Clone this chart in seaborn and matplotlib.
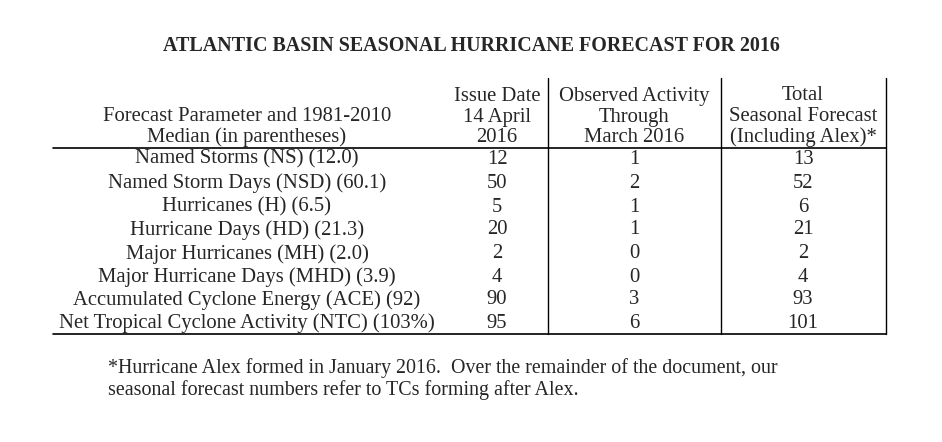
import seaborn as sb
import matplotlib.pyplot as plt

sb.set_style("white")
plt.rcParams['font.family'] = ['Liberation Serif', 'DejaVu Serif']

#### table data
title = "ATLANTIC BASIN SEASONAL HURRICANE FORECAST FOR 2016"
headers = ["Forecast Parameter and 1981-2010\nMedian (in parentheses)",
           "Issue Date\n14 April\n2016",
           "Observed Activity\nThrough\nMarch 2016",
           "Total\nSeasonal Forecast\n(Including Alex)*"]
params = ["Named Storms (NS) (12.0)", "Named Storm Days (NSD) (60.1)",
          "Hurricanes (H) (6.5)", "Hurricane Days (HD) (21.3)",
          "Major Hurricanes (MH) (2.0)", "Major Hurricane Days (MHD) (3.9)",
          "Accumulated Cyclone Energy (ACE) (92)",
          "Net Tropical Cyclone Activity (NTC) (103%)"]
issue = [12, 50, 5, 20, 2, 4, 90, 95]
observed = [1, 2, 1, 1, 0, 0, 3, 6]
total = [13, 52, 6, 21, 2, 4, 93, 101]
footnote = ("*Hurricane Alex formed in January 2016.  Over the remainder of the document, our\n"
            "seasonal forecast numbers refer to TCs forming after Alex.")

fig = plt.figure(figsize=(9.42, 4.42), dpi=100)
ax = fig.add_axes([0, 0, 1, 1])
ax.set_xlim(0, 942)
ax.set_ylim(442, 0)
ax.axis("off")

col_x = [247, 497, 634, 803]
fs = 14.9

ax.text(471, 46, title, ha="center", va="center", fontsize=14.4, fontweight="bold")

# header (bottom aligned)
for i, h in enumerate(headers):
    ax.text(col_x[i], 147, h, ha="center", va="bottom", fontsize=fs, linespacing=1.1)

row_y = [159, 183, 207, 230, 254, 277, 300, 323]
for i in range(len(params)):
    vals = [params[i], issue[i], observed[i], total[i]]
    for j, v in enumerate(vals):
        ax.text(col_x[j], row_y[i], str(v), ha="center", va="center", fontsize=fs)

# rules
ax.plot([53, 886], [148, 148], color="black", lw=1.2)
ax.plot([53, 886], [334, 334], color="black", lw=1.2)
for x in [548, 721, 886]:
    ax.plot([x, x], [78, 334], color="black", lw=1.0)

ax.text(108, 379, footnote, ha="left", va="center", fontsize=14.4, linespacing=1.2)

fig.savefig("out.png", dpi=100)
